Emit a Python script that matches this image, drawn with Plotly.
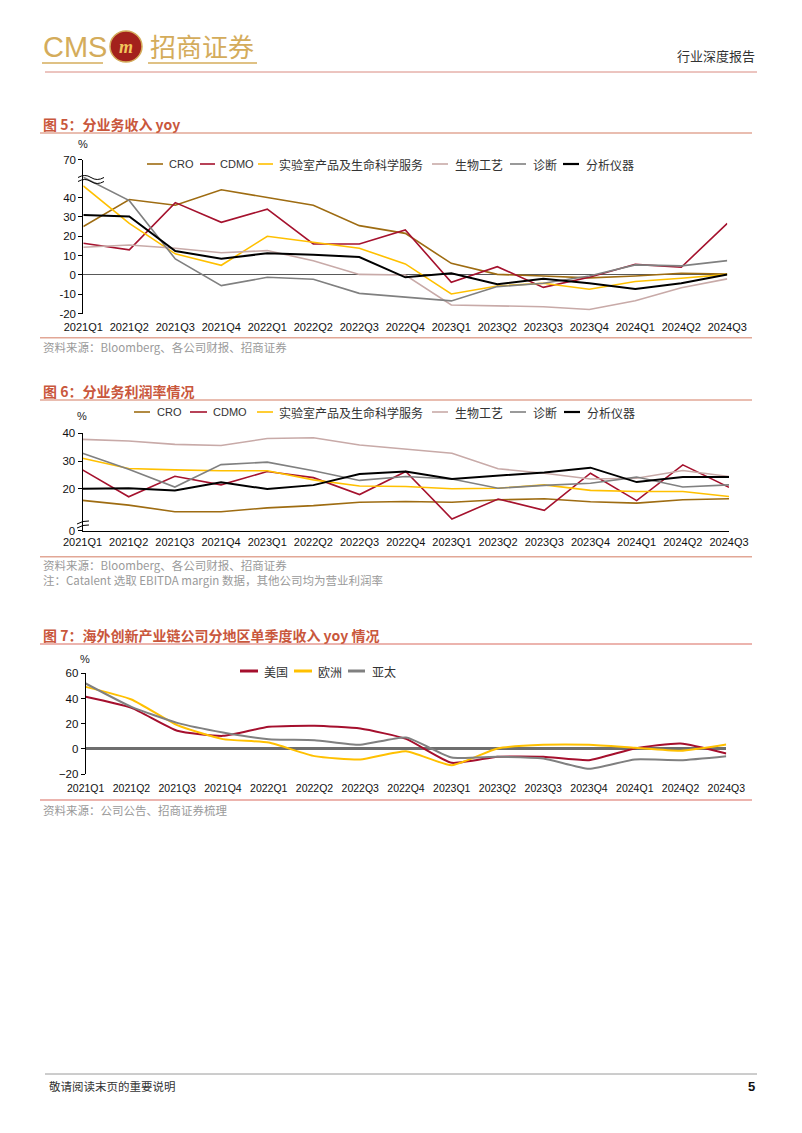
import plotly.graph_objects as go

W, H = 802, 1133

# ---------------- data ----------------
quarters = ["2021Q1", "2021Q2", "2021Q3", "2021Q4", "2022Q1", "2022Q2", "2022Q3", "2022Q4",
            "2023Q1", "2023Q2", "2023Q3", "2023Q4", "2024Q1", "2024Q2", "2024Q3"]
quarters_fig6 = ["2021Q1", "2021Q2", "2021Q3", "2021Q4", "2023Q1", "2022Q2", "2022Q3", "2022Q4",
                 "2023Q1", "2023Q2", "2023Q3", "2023Q4", "2024Q1", "2024Q2", "2024Q3"]

series_names5 = ["CRO", "CDMO", "实验室产品及生命科学服务", "生物工艺", "诊断", "分析仪器"]
cro5 = [25, 39, 36, 44, 40, 36, 25.5, 21.5, 6, 0.3, -0.5, -1.5, -0.5, 0.9, 0.5]
cdmo5 = [16.4, 13, 37.4, 27.2, 34, 16, 16, 23.3, -3.8, 4.3, -6.4, -1.2, 5.5, 4, 26.7]
lab5 = [46, 26.7, 10.9, 5, 20, 17, 13.8, 5.7, -9.8, -5.7, -4.3, -7.4, -3.4, -1.7, 0.3]
bio5 = [14.3, 15.5, 13.8, 11.5, 12.6, 7.4, 0.3, 0, -15.5, -16, -16.4, -17.8, -13.3, -6.6, -2]
diag5 = [50.5, 38.4, 8.3, -5.5, -1.2, -2.2, -9.5, -11.6, -13.4, -6, -4.3, -0.5, 5.2, 4.7, 7.4]
inst5 = [31, 30.2, 12.4, 8.4, 11.2, 10.5, 9.3, -1.2, 0.9, -4.8, -2, -4.3, -7.2, -4.3, 0.3]

cro6 = [15.8, 14.1, 11.7, 11.7, 13.1, 13.9, 15.1, 15.4, 15.1, 16, 16.4, 15.3, 14.8, 16, 16.4]
cdmo6 = [26.8, 17.1, 24.5, 21.4, 26.2, 24, 17.9, 26.2, 9.1, 16.3, 12.2, 25.6, 15.7, 28.6, 20.5]
lab6 = [31, 27.3, 26.8, 26.5, 26.5, 23.2, 21, 20.8, 20, 20.2, 21.4, 19.4, 19, 19, 17.2]
bio6 = [37.8, 37.2, 36, 35.6, 38.1, 38.4, 35.8, 34.2, 32.8, 27.2, 25.6, 23.5, 23.8, 26.6, 24.4]
diag6 = [32.8, 27, 20.6, 28.7, 29.6, 26.5, 23, 24.4, 23.5, 20.2, 21.2, 22, 24.2, 20.6, 21.4]
inst6 = [20, 20.2, 19.4, 22.3, 19.9, 21.3, 25.3, 26.2, 23.5, 24.8, 25.9, 27.6, 22.4, 24.2, 24.2]

series_names7 = ["美国", "欧洲", "亚太"]
us7 = [41.3, 32.5, 14.3, 10.3, 17.5, 18.3, 16.1, 7.9, -11.1, -6.3, -6.3, -9, 0.3, 4.2, -3.7]
eu7 = [49.2, 39.2, 18.8, 7.7, 5, -5.8, -8.5, -1.9, -13, 0.3, 3.2, 3.2, 0.8, -1.6, 3.4]
ap7 = [51.9, 33.3, 20.6, 13, 7.7, 6.9, 3.2, 9, -6.9, -6.3, -7.7, -15.9, -8.5, -9, -5.8]

y5_ticks = [-20, -10, 0, 10, 20, 30, 40, 59.5]
y5_labels = ["-20", "-10", "0", "10", "20", "30", "40", "70"]
y6_ticks = [4.86, 20, 30, 40]
y6_labels = ["0", "20", "30", "40"]
y7_ticks = [-20, 0, 20, 40, 60]

# ---------------- styles ----------------
C_CRO = "#9E6C12"
C_CDMO = "#A5122E"
C_LAB = "#FFC000"
C_BIO = "#C8AAA8"
C_DIAG = "#808080"
C_INST = "#000000"
colors6 = [C_CRO, C_CDMO, C_LAB, C_BIO, C_DIAG, C_INST]
widths6 = [1.6, 1.6, 1.6, 1.6, 1.6, 2.0]
colors7 = ["#A50F2D", "#FFC000", "#808080"]

FONT = "Liberation Sans, Arial, Noto Sans CJK SC, sans-serif"
CJK = "Noto Sans CJK SC, sans-serif"
GOLD = "#D4AC5B"
TITLE_C = "#C9573C"
SEP_C = "#E2A796"
SRC_C = "#9A9A9A"


def X(px):
    return px / W


def Y(py):
    return 1 - py / H


xs = list(range(len(quarters)))
fig = go.Figure()

for name, vals, c, w in zip(series_names5, [cro5, cdmo5, lab5, bio5, diag5, inst5], colors6, widths6):
    fig.add_trace(go.Scatter(x=xs, y=vals, mode="lines", name=name, line=dict(color=c, width=w),
                             xaxis="x", yaxis="y", showlegend=False, hoverinfo="skip"))
for name, vals, c, w in zip(series_names5, [cro6, cdmo6, lab6, bio6, diag6, inst6], colors6, widths6):
    fig.add_trace(go.Scatter(x=xs, y=vals, mode="lines", name=name, line=dict(color=c, width=w),
                             xaxis="x2", yaxis="y2", showlegend=False, hoverinfo="skip"))
for name, vals, c in zip(series_names7, [us7, eu7, ap7], colors7):
    fig.add_trace(go.Scatter(x=xs, y=vals, mode="lines", name=name,
                             line=dict(color=c, width=2, shape="spline", smoothing=0.5),
                             xaxis="x3", yaxis="y3", showlegend=False, hoverinfo="skip"))

tickfont = dict(family=FONT, size=11, color="#111")


def xaxis_cfg(ticklen, size=11):
    return dict(range=[0, 14], tickmode="array", tickvals=xs, showgrid=False, zeroline=False,
                ticks="outside", ticklen=ticklen, tickcolor="rgba(0,0,0,0)",
                tickfont=dict(family=FONT, size=size, color="#111"), fixedrange=True, automargin=False)


common_y = dict(showgrid=False, showline=True, linecolor="#000", linewidth=1, ticks="outside",
                ticklen=4, tickcolor="#000", tickfont=dict(family=FONT, size=11.5, color="#111"),
                fixedrange=True, automargin=False)

fig.update_layout(
    template="none",
    width=W, height=H, margin=dict(l=0, r=0, t=0, b=0, pad=0, autoexpand=False), autosize=False,
    paper_bgcolor="white", plot_bgcolor="rgba(0,0,0,0)", showlegend=False,
    xaxis=dict(domain=[X(83.3), X(727.3)], anchor="y", ticktext=quarters, showline=False, **xaxis_cfg(3)),
    yaxis=dict(domain=[Y(313.7), Y(159.8)], anchor="x", range=[-20, 59.5], tickmode="array",
               tickvals=y5_ticks, ticktext=y5_labels, zeroline=True, zerolinecolor="#595959",
               zerolinewidth=1.3, **common_y),
    xaxis2=dict(domain=[X(82.5), X(729)], anchor="y2", ticktext=quarters_fig6, showline=True,
                linecolor="#000", linewidth=1, **xaxis_cfg(1)),
    yaxis2=dict(domain=[Y(530.7), Y(433.3)], anchor="x2", range=[4.86, 40], tickmode="array",
                tickvals=y6_ticks, ticktext=y6_labels, zeroline=False, **common_y),
    xaxis3=dict(domain=[X(85.7), X(726.3)], anchor="y3", ticktext=quarters, showline=False,
                **xaxis_cfg(4, 10.5)),
    yaxis3=dict(domain=[Y(774), Y(673.3)], anchor="x3", range=[-20, 60], tickmode="array",
                tickvals=y7_ticks, zeroline=True, zerolinecolor="#6E6E6E", zerolinewidth=2.5,
                **common_y),
)

shapes = []
ann = []


def hline(x0, x1, y, color, width=1):
    shapes.append(dict(type="line", xref="paper", yref="paper", x0=X(x0), x1=X(x1), y0=Y(y), y1=Y(y),
                       line=dict(color=color, width=width)))


def text(x, y, s, size=12, color="#333", family=CJK, xanchor="left", bold=False):
    if bold:
        s = "<b>" + s + "</b>"
    ann.append(dict(xref="paper", yref="paper", x=X(x), y=Y(y), text=s, showarrow=False,
                    xanchor=xanchor, yanchor="middle", font=dict(size=size, color=color, family=family)))


def legend_item(x0, x1, y, color, width, label, tx, size=12, family=CJK):
    hline(x0, x1, y, color, width)
    text(tx, y, label, size=size, color="#333", family=family)


# ---------- header ----------
text(41, 47, "CMS", size=29, color=GOLD, family="Liberation Sans, Arial")
shapes.append(dict(type="circle", xref="paper", yref="paper", x0=X(110), x1=X(142), y0=Y(62), y1=Y(31),
                   fillcolor="#A3211C", line=dict(color=GOLD, width=1.5)))
text(126, 47, "<i><b>m</b></i>", size=18, color="#F2C75C", family="Liberation Serif", xanchor="center")
text(148, 46, "招商证券", size=26, color=GOLD, family=CJK)
hline(42, 103, 63, GOLD, 1.5)
hline(148, 257, 63, GOLD, 1.5)
text(757, 56, "行业深度报告", size=13, color="#333", xanchor="right")
hline(45, 757, 72, "#D98A80", 1)

# ---------- chart 5 ----------
text(41, 124, "图 5：分业务收入 yoy", size=14, color=TITLE_C, bold=True)
hline(40, 752, 133, SEP_C, 1.5)
text(83, 144, "%", size=11, color="#222", family=FONT, xanchor="center")
legend_item(147, 163, 164, C_CRO, 1.6, "CRO", 167, 11, FONT)
legend_item(200, 215, 164, C_CDMO, 1.6, "CDMO", 218, 11, FONT)
legend_item(258, 273, 164, C_LAB, 1.6, "实验室产品及生命科学服务", 277)
legend_item(432, 448, 164, C_BIO, 1.6, "生物工艺", 453)
legend_item(510, 526, 164, C_DIAG, 1.6, "诊断", 531)
legend_item(563, 579, 164, C_INST, 2.2, "分析仪器", 584)
# axis break marks
for yb in (177.5, 181.5):
    shapes.append(dict(type="path", xref="paper", yref="paper",
                       path="M {:.5f},{:.5f} Q {:.5f},{:.5f} {:.5f},{:.5f} Q {:.5f},{:.5f} {:.5f},{:.5f}".format(
                           X(78), Y(yb), X(85), Y(yb - 4), X(91), Y(yb), X(97), Y(yb + 4), X(104), Y(yb)),
                       line=dict(color="#000", width=1)))
hline(40, 752, 337.7, SEP_C, 1.5)
text(41, 347, "资料来源：Bloomberg、各公司财报、招商证券", size=11.5, color=SRC_C)

# ---------- chart 6 ----------
text(41, 391, "图 6：分业务利润率情况", size=14, color=TITLE_C, bold=True)
hline(40, 752, 400, SEP_C, 1.5)
text(82, 416, "%", size=11, color="#222", family=FONT, xanchor="center")
legend_item(134, 150, 412, C_CRO, 1.6, "CRO", 155, 11, FONT)
legend_item(190, 207, 412, C_CDMO, 1.6, "CDMO", 211, 11, FONT)
legend_item(257, 273, 412, C_LAB, 1.6, "实验室产品及生命科学服务", 277)
legend_item(432, 448, 412, C_BIO, 1.6, "生物工艺", 453)
legend_item(510, 526, 412, C_DIAG, 1.6, "诊断", 531)
legend_item(564, 580, 412, C_INST, 2.2, "分析仪器", 585)
for yb in (522.5, 526.5):
    shapes.append(dict(type="path", xref="paper", yref="paper",
                       path="M {:.5f},{:.5f} Q {:.5f},{:.5f} {:.5f},{:.5f}".format(
                           X(77), Y(yb + 1.5), X(83), Y(yb - 2), X(89), Y(yb - 1.5)),
                       line=dict(color="#000", width=1)))
hline(40, 752, 556.7, SEP_C, 1.5)
text(41, 565, "资料来源：Bloomberg、各公司财报、招商证券", size=11.5, color=SRC_C)
text(41, 580, "注：Catalent 选取 EBITDA margin 数据，其他公司均为营业利润率", size=11.5, color=SRC_C)

# ---------- chart 7 ----------
text(41, 635, "图 7：海外创新产业链公司分地区单季度收入 yoy 情况", size=14, color=TITLE_C, bold=True)
hline(40, 752, 644, "#D96A5E", 1.2)
text(85, 659, "%", size=11, color="#222", family=FONT, xanchor="center")
legend_item(240, 258, 671, colors7[0], 3, "美国", 262)
legend_item(294, 312, 671, colors7[1], 3, "欧洲", 316)
legend_item(348, 365, 671, colors7[2], 3, "亚太", 370)
hline(40, 752, 800, "#D96A5E", 1.2)
text(41, 810, "资料来源：公司公告、招商证券梳理", size=11.5, color=SRC_C)

# ---------- footer ----------
hline(45, 757, 1074, "#9A9A9A", 1)
text(47, 1086, "敬请阅读末页的重要说明", size=11.5, color="#333")
text(757, 1086, "5", size=13, color="#111", family=FONT, xanchor="right", bold=True)

fig.update_layout(shapes=shapes, annotations=ann)
fig.write_html("out.html", config={"responsive": False, "displayModeBar": False},
               post_script="document.body.style.margin='0px';document.body.style.padding='0px';")
